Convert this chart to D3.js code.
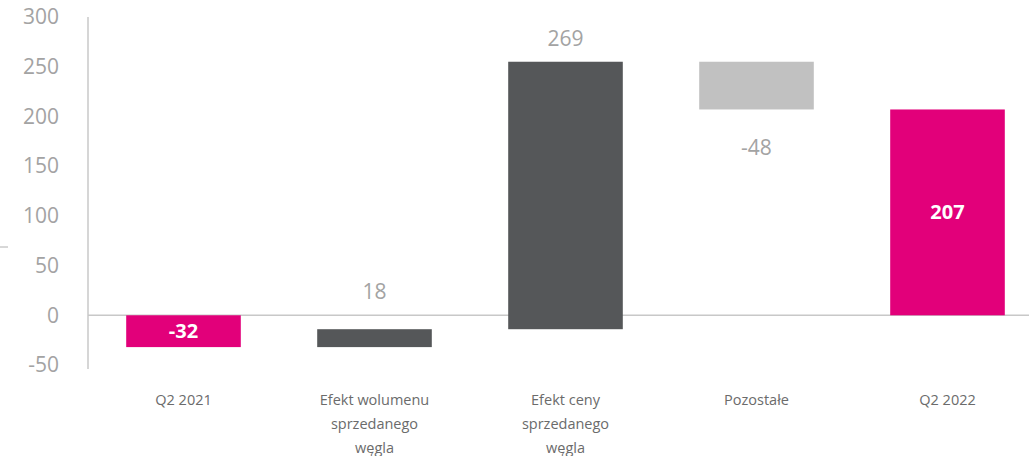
<!DOCTYPE html>
<html>
<head>
<meta charset="utf-8">
<script src="https://cdn.jsdelivr.net/npm/d3@7"></script>
<style>
  html, body { margin: 0; padding: 0; background: #ffffff; }
  svg { display: block; font-family: "Open Sans", "Noto Sans", sans-serif; }
</style>
</head>
<body>
<svg id="chart" width="1029" height="456"></svg>
<script>
// Bridge of results between Q2 2021 and Q2 2022 (waterfall)
const categories = [
  ["Q2 2021"],
  ["Efekt wolumenu", "sprzedanego", "węgla"],
  ["Efekt ceny", "sprzedanego", "węgla"],
  ["Pozostałe"],
  ["Q2 2022"]
];
const values = [-32, 18, 269, -48, 207];
const kinds = ["total", "delta", "delta", "delta", "total"];
const yTicks = [-50, 0, 50, 100, 150, 200, 250, 300];

const colors = { total: "#E2007A", up: "#555759", down: "#C1C1C1" };

const svg = d3.select("#chart");
const width = 1029, height = 456;

const x = d3.scaleBand()
  .domain(d3.range(values.length))
  .range([88, 1043])
  .paddingInner(0.4)
  .paddingOuter(0.2);

const y = d3.scaleLinear()
  .domain([-50, 300])
  .range([365, 17]);

// Plain hyphen-minus for negative numbers
const fmt = v => String(v);

// Running totals give each bar's base and end
let running = 0;
const bars = values.map((v, i) => {
  let start, end;
  if (kinds[i] === "total") {
    start = 0; end = v; running = v;
  } else {
    start = running; end = running + v; running = end;
  }
  return {
    i, v, kind: kinds[i],
    lo: Math.min(start, end), hi: Math.max(start, end),
    color: kinds[i] === "total" ? colors.total : (v >= 0 ? colors.up : colors.down)
  };
});

// Y axis labels
const yAxis = d3.axisLeft(y).tickValues(yTicks).tickFormat(fmt).tickSize(0).tickPadding(0);
const gy = svg.append("g").attr("transform", "translate(59,0)").call(yAxis);
gy.select(".domain").remove();
gy.selectAll("text")
  .attr("fill", "#a3a3a3")
  .attr("font-size", 21)
  .attr("font-family", "'Open Sans', sans-serif");

// Vertical axis line and zero line
svg.append("line")
  .attr("x1", 88).attr("x2", 88)
  .attr("y1", y(300)).attr("y2", y(-54))
  .attr("stroke", "#c8c8c8").attr("stroke-width", 1.5);
svg.append("line")
  .attr("x1", 88).attr("x2", width)
  .attr("y1", y(0)).attr("y2", y(0))
  .attr("stroke", "#c8c8c8").attr("stroke-width", 1.5);

// Short mark at the left edge
svg.append("line")
  .attr("x1", 0).attr("x2", 8)
  .attr("y1", 247).attr("y2", 247)
  .attr("stroke", "#b0b0b0").attr("stroke-width", 1);

// Bars
svg.append("g").selectAll("rect")
  .data(bars)
  .join("rect")
  .attr("x", d => x(d.i))
  .attr("width", x.bandwidth())
  .attr("y", d => y(d.hi))
  .attr("height", d => y(d.lo) - y(d.hi))
  .attr("fill", d => d.color);

// Value labels: totals inside (white, bold), changes outside the bar end
svg.append("g").selectAll("text")
  .data(bars)
  .join("text")
  .attr("x", d => x(d.i) + x.bandwidth() / 2)
  .attr("y", d => {
    if (d.kind === "total") return (y(d.lo) + y(d.hi)) / 2;
    const gap = d.hi > 240 && d.v > 0 ? 23 : 38;
    return d.v >= 0 ? y(d.hi) - gap : y(d.lo) + gap;
  })
  .attr("dy", "0.35em")
  .attr("text-anchor", "middle")
  .attr("font-size", d => d.kind === "total" ? 20 : 21)
  .attr("font-weight", d => d.kind === "total" ? "bold" : "normal")
  .attr("fill", d => d.kind === "total" ? "#ffffff" : "#a3a3a3")
  .text(d => fmt(d.v));

// Category labels (multi-line)
const cat = svg.append("g").selectAll("text")
  .data(categories)
  .join("text")
  .attr("text-anchor", "middle")
  .attr("font-size", 14.5)
  .attr("fill", "#6b6b6b")
  .attr("transform", (d, i) => `translate(${x(i) + x.bandwidth() / 2},405)`);
cat.selectAll("tspan")
  .data(d => d)
  .join("tspan")
  .attr("x", 0)
  .attr("y", (d, j) => j * 24)
  .text(d => d);
</script>
</body>
</html>
